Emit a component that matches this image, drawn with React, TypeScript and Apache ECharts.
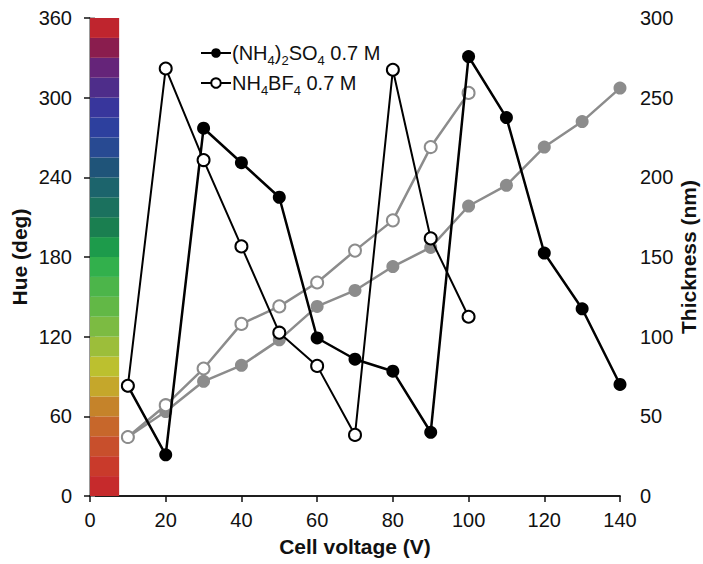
import React, { useEffect, useRef } from "react";
import * as echarts from "echarts";

// Cell voltage (V) for each measurement
const voltagesSO4 = [10, 20, 30, 40, 50, 60, 70, 80, 90, 100, 110, 120, 130, 140];
const voltagesBF4 = [10, 20, 30, 40, 50, 60, 70, 80, 90, 100];

// Hue (deg) – left axis
const hueSO4 = [83, 31, 277, 251, 225, 119, 103, 94, 48, 331, 285, 183, 141, 84];
const hueBF4 = [83, 322, 253, 188, 123, 98, 46, 321, 194, 135];

// Thickness (nm) – right axis
const thickSO4 = [37, 53, 72, 82, 98, 119, 129, 144, 156, 182, 195, 219, 235, 256];
const thickBF4 = [37, 57, 80, 108, 119, 134, 154, 173, 219, 253];

// Hue colour-scale bar (band start in deg, 15 deg each)
const hueBandStarts = [0, 15, 30, 45, 60, 75, 90, 105, 120, 135, 150, 165, 180, 195, 210, 225, 240, 255, 270, 285, 300, 315, 330, 345];
const hueBandColors = [
  "#c62a2c", "#c93a2b", "#c84f2c", "#c7672b", "#c5832a", "#c5a72b",
  "#bcc02f", "#9cbe3a", "#7cbb42", "#62b846", "#4cb54a", "#32b04c",
  "#1d9b4b", "#1a7f50", "#1b715e", "#1c646c", "#1f5479", "#284a92",
  "#2d409e", "#38369c", "#4e2d8a", "#652479", "#8a1d4e", "#bf252e",
];
const hueBandWidth = 15;
const colorBarEnd = 7.7; // V

const xTicks = { min: 0, max: 140, interval: 20 };
const hueTicks = { min: 0, max: 360, interval: 60 };
const thickTicks = { min: 0, max: 300, interval: 50 };

const NAME_SO4 = "SO4";
const NAME_BF4 = "BF4";

export default function App() {
  const ref = useRef<HTMLDivElement>(null);
  useEffect(() => {
    if (!ref.current) return;
    const chart = echarts.init(ref.current, null, { renderer: "svg" });
    const font = "Liberation Sans, Arial, sans-serif";
    const tickFont = { fontFamily: font, fontSize: 20, color: "#111" };
    const nameFont = { fontFamily: font, fontSize: 21, fontWeight: "bold" as const, color: "#111" };

    const bandAreas = hueBandStarts.map((s, i) => [
      { xAxis: 0, yAxis: s, itemStyle: { color: hueBandColors[i] } },
      { xAxis: colorBarEnd, yAxis: s + hueBandWidth },
    ]);

    const pairs = (xs: number[], ys: number[]) => xs.map((x, i) => [x, ys[i]]);

    chart.setOption({
      animation: false,
      backgroundColor: "#fff",
      grid: { left: 90, top: 18, width: 530, height: 478, containLabel: false, outerBoundsMode: "none" },
      legend: {
        data: [NAME_SO4, NAME_BF4],
        orient: "vertical",
        left: 195,
        top: 38,
        itemWidth: 30,
        itemHeight: 12,
        itemGap: 6,
        selectedMode: false,
        formatter: (name: string) =>
          name === NAME_SO4
            ? "{n|(NH}{s|4}{n|)}{s|2}{n|SO}{s|4}{n| 0.7 M}"
            : "{n|NH}{s|4}{n|BF}{s|4}{n| 0.7 M}",
        textStyle: {
          fontFamily: font,
          fontSize: 20,
          color: "#111",
          padding: [0, 0, 0, -4],
          rich: {
            n: { fontFamily: font, fontSize: 20, color: "#111", lineHeight: 22, verticalAlign: "middle" },
            s: { fontFamily: font, fontSize: 13, color: "#111", lineHeight: 13, verticalAlign: "bottom", padding: [0, 0, -3, 0] },
          },
        },
      },
      xAxis: [
        {
          type: "value",
          position: "bottom",
          ...xTicks,
          name: "Cell voltage (V)",
          nameLocation: "middle",
          nameGap: 40,
          nameMoveOverlap: false,
          nameTextStyle: nameFont,
          axisLine: { lineStyle: { color: "#111", width: 1.5 } },
          axisTick: { inside: false, length: 6, lineStyle: { color: "#111", width: 1.5 } },
          axisLabel: { ...tickFont, margin: 14 },
          splitLine: { show: false },
        },
        {
          type: "value",
          position: "top",
          ...xTicks,
          axisLine: { lineStyle: { color: "#111", width: 1.5 } },
          axisTick: { show: false },
          axisLabel: { show: false },
          splitLine: { show: false },
        },
      ],
      yAxis: [
        {
          type: "value",
          position: "left",
          ...hueTicks,
          name: "Hue (deg)",
          nameLocation: "middle",
          nameGap: 60,
          nameMoveOverlap: false,
          nameTextStyle: nameFont,
          axisLine: { show: true, lineStyle: { color: "#111", width: 1.5 } },
          axisTick: { show: true, inside: false, length: 6, lineStyle: { color: "#111", width: 1.5 } },
          axisLabel: { ...tickFont, margin: 18 },
          splitLine: { show: false },
        },
        {
          type: "value",
          position: "right",
          ...thickTicks,
          name: "Thickness (nm)",
          nameLocation: "middle",
          nameGap: 58,
          nameMoveOverlap: false,
          nameTextStyle: nameFont,
          axisLine: { show: true, lineStyle: { color: "#999", width: 2 } },
          axisTick: { show: true, inside: false, length: 5, lineStyle: { color: "#999", width: 1.5 } },
          axisLabel: { ...tickFont, margin: 20 },
          splitLine: { show: false },
        },
      ],
      series: [
        {
          name: "colorbar",
          type: "line",
          xAxisIndex: 0,
          yAxisIndex: 0,
          data: [],
          silent: true,
          z: 1,
          markArea: { silent: true, data: bandAreas },
        },
        {
          name: "thickSO4",
          type: "line",
          yAxisIndex: 1,
          data: pairs(voltagesSO4, thickSO4),
          symbol: "circle",
          symbolSize: 13,
          lineStyle: { color: "#8c8c8c", width: 2.5 },
          itemStyle: { color: "#8c8c8c", borderColor: "#8c8c8c", borderWidth: 0 },
          z: 2,
        },
        {
          name: "thickBF4",
          type: "line",
          yAxisIndex: 1,
          data: pairs(voltagesBF4, thickBF4),
          symbol: "circle",
          symbolSize: 12,
          lineStyle: { color: "#8c8c8c", width: 2.5 },
          itemStyle: { color: "#fff", borderColor: "#8c8c8c", borderWidth: 2 },
          z: 3,
        },
        {
          name: NAME_SO4,
          type: "line",
          yAxisIndex: 0,
          data: pairs(voltagesSO4, hueSO4),
          symbol: "circle",
          symbolSize: 13,
          lineStyle: { color: "#000", width: 2.5 },
          itemStyle: { color: "#000", borderColor: "#000", borderWidth: 0 },
          z: 4,
        },
        {
          name: NAME_BF4,
          type: "line",
          yAxisIndex: 0,
          data: pairs(voltagesBF4, hueBF4),
          symbol: "circle",
          symbolSize: 12,
          lineStyle: { color: "#000", width: 2 },
          itemStyle: { color: "#fff", borderColor: "#000", borderWidth: 2 },
          z: 5,
        },
      ],
    });
    return () => chart.dispose();
  }, []);
  return (
    <div
      ref={ref}
      style={{ position: "absolute", left: 0, top: 0, width: 703, height: 564, overflow: "hidden" }}
    />
  );
}
